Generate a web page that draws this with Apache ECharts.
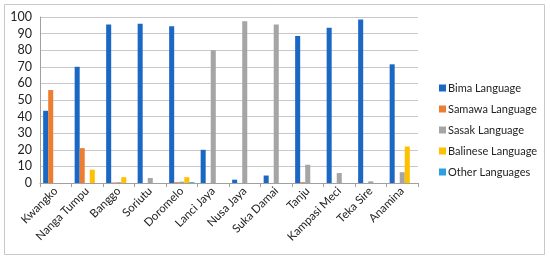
<!DOCTYPE html>
<html lang="en">
<head>
    <meta charset="UTF-8">
    <title>Languages by village</title>
    <script src="https://cdn.jsdelivr.net/npm/echarts@6/dist/echarts.min.js"></script>
    <style>
        body, html {
            margin: 0;
            background: #fff;
        }

        #chart {
            width: 550px;
            height: 261px;
        }
    </style>
</head>
<body>
<div id="chart"></div>
<script>
    const villages = ['Kwangko', 'Nanga Tumpu', 'Banggo', 'Soriutu', 'Doromelo', 'Lanci Jaya',
        'Nusa Jaya', 'Suka Damai', 'Tanju', 'Kampasi Meci', 'Teka Sire', 'Anamina'];

    const bima = [43.5, 70, 95.5, 96, 94.5, 20, 2, 4.5, 88.5, 93.5, 98.5, 71.5];
    const samawa = [56, 21, 0.3, 0, 0.5, 0, 0, 0, 0.5, 0, 0, 0];
    const sasak = [0, 0, 0.5, 3, 0.8, 80, 97.5, 95.5, 11, 6, 1, 6.5];
    const balinese = [0, 8, 3.5, 0, 3.5, 0, 0, 0, 0, 0, 0, 22];
    const other = [0, 0, 0, 0, 0.5, 0, 0, 0, 0, 0, 0, 0];

    const seriesNames = ['Bima Language', 'Samawa Language', 'Sasak Language', 'Balinese Language', 'Other Languages'];
    const colors = ['#1a68c4', '#ed7d31', '#a5a5a5', '#ffc000', '#2d9ee0'];
    const values = [bima, samawa, sasak, balinese, other];

    const chart = echarts.init(document.getElementById('chart'));

    const option = {
        animation: false,
        color: colors,
        graphic: [{
            type: 'rect',
            shape: {x: 4.5, y: 4.5, width: 540, height: 250},
            style: {fill: 'none', stroke: '#c8c8c8', lineWidth: 1}
        }],
        grid: {left: 40, right: 132, top: 17, bottom: 78},
        legend: {
            orient: 'vertical',
            left: 434,
            top: 76,
            itemWidth: 7,
            itemHeight: 7,
            itemGap: 7,
            icon: 'rect',
            textStyle: {fontFamily: 'Lato', fontSize: 11, color: '#222', padding: [0, 0, 0, -3], lineHeight: 14},
            data: seriesNames
        },
        xAxis: {
            type: 'category',
            data: villages,
            axisLine: {lineStyle: {color: '#a0a0a0'}},
            axisTick: {show: true, length: 4, lineStyle: {color: '#a0a0a0'}},
            axisLabel: {
                interval: 0,
                rotate: 45,
                margin: 6,
                fontFamily: 'Lato',
                fontSize: 11.5,
                color: '#222'
            }
        },
        yAxis: {
            type: 'value',
            min: 0,
            max: 100,
            interval: 10,
            axisLine: {show: true, lineStyle: {color: '#a0a0a0'}},
            axisTick: {show: false},
            splitLine: {lineStyle: {color: '#c8c8c8'}},
            axisLabel: {fontFamily: 'Lato', fontSize: 12.5, color: '#222', margin: 8}
        },
        series: values.map((v, i) => ({
            name: seriesNames[i],
            type: 'bar',
            data: v,
            barGap: '0%',
            barCategoryGap: '20%'
        }))
    };

    chart.setOption(option);
</script>
</body>
</html>
